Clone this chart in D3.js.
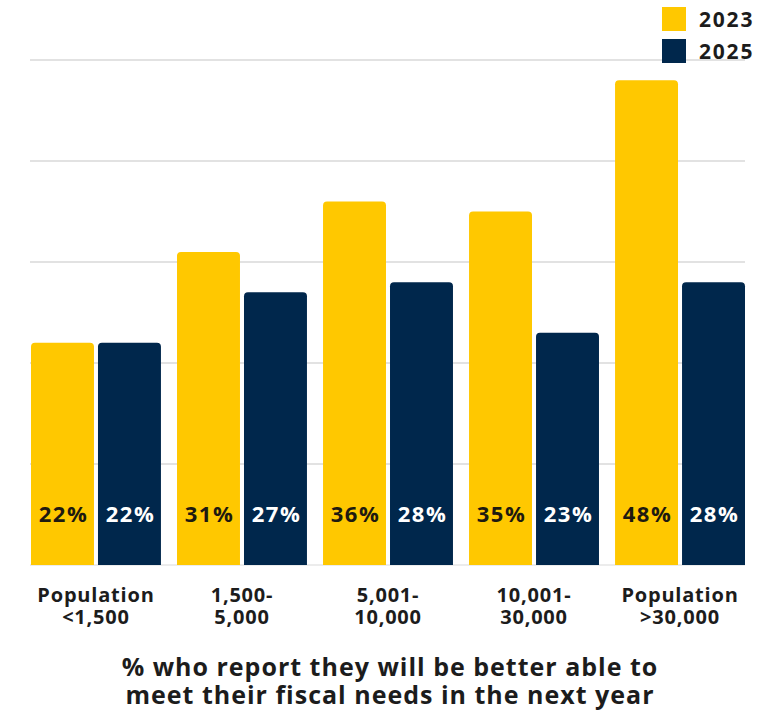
<!DOCTYPE html>
<html>
<head>
<meta charset="utf-8">
<script src="https://cdn.jsdelivr.net/npm/d3@7"></script>
<style>
  html, body { margin: 0; padding: 0; background: #ffffff; }
  svg { display: block; font-family: "Open Sans", Lato, sans-serif; font-weight: 700; }
</style>
</head>
<body>
<svg id="chart" width="780" height="711"></svg>
<script>
// Population size groups and the share reporting improved fiscal capacity
const categories = [["Population", "<1,500"], ["1,500-", "5,000"], ["5,001-", "10,000"], ["10,001-", "30,000"], ["Population", ">30,000"]];
const years = ["2023", "2025"];
const values2023 = [22, 31, 36, 35, 48];
const values2025 = [22, 27, 28, 23, 28];
const gridTicks = [10, 20, 30, 40, 50];
const titleLines = ["% who report they will be better able to", "meet their fiscal needs in the next year"];

const colors = { "2023": "#FFC800", "2025": "#00274C" };
const labelColors = { "2023": "#1e1a10", "2025": "#ffffff" };

const svg = d3.select("#chart");
const keys = categories.map(c => c.join(" "));

const x = d3.scaleBand().domain(keys).range([31, 745]).paddingInner(0.11).paddingOuter(0);
const xInner = d3.scaleBand().domain(years).range([0, x.bandwidth()]).paddingInner(0.06);
const y = d3.scaleLinear().domain([0, 50]).range([565, 60]);

// horizontal gridlines
svg.append("g")
  .selectAll("line")
  .data([0].concat(gridTicks))
  .join("line")
  .attr("x1", 30).attr("x2", 745)
  .attr("y1", d => y(d)).attr("y2", d => y(d))
  .attr("stroke", d => d === 0 ? "#e6e6e6" : "#d9d9d9")
  .attr("stroke-width", 1.5);

const rows = keys.map((k, i) => ({ key: k, cat: categories[i], vals: { "2023": values2023[i], "2025": values2025[i] } }));

// bar with slightly rounded top corners
function topRounded(x0, y0, w, h, r) {
  return `M${x0},${y0 + h}V${y0 + r}Q${x0},${y0} ${x0 + r},${y0}H${x0 + w - r}Q${x0 + w},${y0} ${x0 + w},${y0 + r}V${y0 + h}Z`;
}

const groups = svg.append("g")
  .selectAll("g")
  .data(rows)
  .join("g")
  .attr("transform", d => `translate(${x(d.key)},0)`);

const bars = groups.selectAll("g.bar")
  .data(d => years.map(yr => ({ year: yr, value: d.vals[yr] })))
  .join("g").attr("class", "bar");

bars.append("path")
  .attr("d", d => topRounded(xInner(d.year), y(d.value), xInner.bandwidth(), y(0) - y(d.value), 4))
  .attr("fill", d => colors[d.year]);

bars.append("text")
  .attr("x", d => xInner(d.year) + xInner.bandwidth() / 2 + 1)
  .attr("y", y(0) - 43)
  .attr("text-anchor", "middle")
  .attr("font-size", 22)
  .attr("letter-spacing", 1.5)
  .attr("fill", d => labelColors[d.year])
  .text(d => d.value + "%");

// category labels under each group
const catLabels = svg.append("g")
  .selectAll("text")
  .data(rows)
  .join("text")
  .attr("x", d => x(d.key) + x.bandwidth() / 2)
  .attr("y", 602)
  .attr("text-anchor", "middle")
  .attr("font-size", 20)
  .attr("letter-spacing", 0.8)
  .attr("fill", "#1c1c1c");
catLabels.selectAll("tspan")
  .data(d => d.cat)
  .join("tspan")
  .attr("x", function () { return d3.select(this.parentNode).attr("x"); })
  .attr("dy", (d, i) => i === 0 ? 0 : 22)
  .text(d => d);

// chart caption
svg.append("g")
  .selectAll("text")
  .data(titleLines)
  .join("text")
  .attr("x", 390)
  .attr("y", (d, i) => 676 + i * 28)
  .attr("text-anchor", "middle")
  .attr("font-size", 25)
  .attr("letter-spacing", 1)
  .attr("fill", "#1c1c1c")
  .text(d => d);

// legend
const legend = svg.append("g")
  .selectAll("g")
  .data(years)
  .join("g")
  .attr("transform", (d, i) => `translate(662,${7 + i * 32})`);
legend.append("rect")
  .attr("width", 24).attr("height", 24)
  .attr("fill", d => colors[d]);
legend.append("text")
  .attr("x", 37).attr("y", 20)
  .attr("font-size", 21)
  .attr("letter-spacing", 1.8)
  .attr("fill", "#1c1c1c")
  .text(d => d);
</script>
</body>
</html>
